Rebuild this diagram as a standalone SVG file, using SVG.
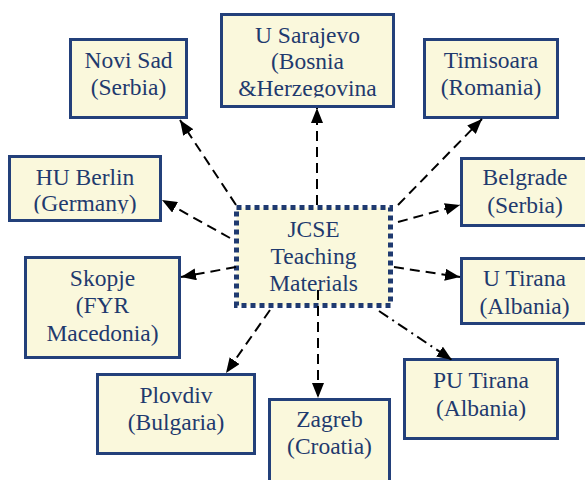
<svg xmlns="http://www.w3.org/2000/svg" width="585" height="480" viewBox="0 0 585 480">
<style>
.box{fill:#FAF8DC;stroke:#23407A;stroke-width:3}
.center{fill:#FAF8DC;stroke:#1F3A70;stroke-width:5;stroke-dasharray:5 4}
.t{font-family:"Liberation Serif","Times New Roman",serif;font-size:23.5px;fill:#1F3A6E;text-anchor:middle}
.c{fill:none;stroke:#000;stroke-width:2;stroke-dasharray:10 6;marker-end:url(#ah)}
.dd{stroke-dasharray:11 5 2 5}
</style>
<defs>
<marker id="ah" markerUnits="userSpaceOnUse" markerWidth="15" markerHeight="12" refX="15" refY="6" orient="auto">
<path d="M0,0 L15,6 L0,12 z" fill="#000"/>
</marker>
<clipPath id="clipBerlin"><rect x="10" y="158" width="150" height="55.5"/></clipPath>
<clipPath id="clipSarajevo"><rect x="223" y="16" width="170" height="81.5"/></clipPath>
</defs>
<rect width="585" height="480" fill="#fff"/>
<g id="novi-sad"><rect class="box" x="70.5" y="39.5" width="116" height="78"/><text class="t" x="128.5" y="68">Novi Sad</text><text class="t" x="128.5" y="95">(Serbia)</text></g>
<g id="u-sarajevo"><rect class="box" x="221.5" y="14.5" width="172" height="92"/><g clip-path="url(#clipSarajevo)"><text class="t" x="307.5" y="42.5">U Sarajevo</text><text class="t" x="307.5" y="69">(Bosnia</text><text class="t" x="307.5" y="95.5">&amp;Herzegovina</text></g></g>
<g id="timisoara"><rect class="box" x="424.5" y="39.5" width="133" height="78"/><text class="t" x="491" y="68">Timisoara</text><text class="t" x="491" y="95">(Romania)</text></g>
<g id="hu-berlin"><rect class="box" x="9.5" y="156.5" width="151" height="64"/><g clip-path="url(#clipBerlin)"><text class="t" x="85" y="185">HU Berlin</text><text class="t" x="85" y="211">(Germany)</text></g></g>
<g id="belgrade"><rect class="box" x="461.5" y="158.5" width="140" height="67"/><text class="t" x="525" y="185">Belgrade</text><text class="t" x="525" y="213">(Serbia)</text></g>
<g id="skopje"><rect class="box" x="25.5" y="257.5" width="154" height="100"/><text class="t" x="102.5" y="286">Skopje</text><text class="t" x="102.5" y="313">(FYR</text><text class="t" x="102.5" y="341">Macedonia)</text></g>
<g id="u-tirana"><rect class="box" x="461.5" y="258.5" width="140" height="65"/><text class="t" x="524.5" y="286">U Tirana</text><text class="t" x="524.5" y="314">(Albania)</text></g>
<g id="plovdiv"><rect class="box" x="97.5" y="374.5" width="157" height="79"/><text class="t" x="176" y="403">Plovdiv</text><text class="t" x="176" y="430">(Bulgaria)</text></g>
<g id="zagreb"><rect class="box" x="269.5" y="399.5" width="120" height="100"/><text class="t" x="329.5" y="427">Zagreb</text><text class="t" x="329.5" y="454">(Croatia)</text></g>
<g id="pu-tirana"><rect class="box" x="404.5" y="359.5" width="153" height="79"/><text class="t" x="481" y="388">PU Tirana</text><text class="t" x="481" y="416">(Albania)</text></g>
<g id="jcse"><rect class="center" x="236.5" y="207.5" width="154" height="98"/><text class="t" x="313.5" y="237">JCSE</text><text class="t" x="313.5" y="264">Teaching</text><text class="t" x="313.5" y="291">Materials</text></g>
<g id="connectors">
<path class="c" d="M236,205 L180,120"/>
<path class="c" d="M230,238 L162,200"/>
<path class="c" d="M317,205 L317,108"/>
<path class="c" d="M398,205 L482,119"/>
<path class="c" d="M398,222 L460,205"/>
<path class="c" d="M236,267 L181,277"/>
<path class="c" d="M270,310 L226,373"/>
<path class="c" d="M318,290 L318,398"/>
<path class="c" d="M394,267 L460,277"/>
<path class="c dd" d="M379,311 L452,360"/>
</g>
</svg>
